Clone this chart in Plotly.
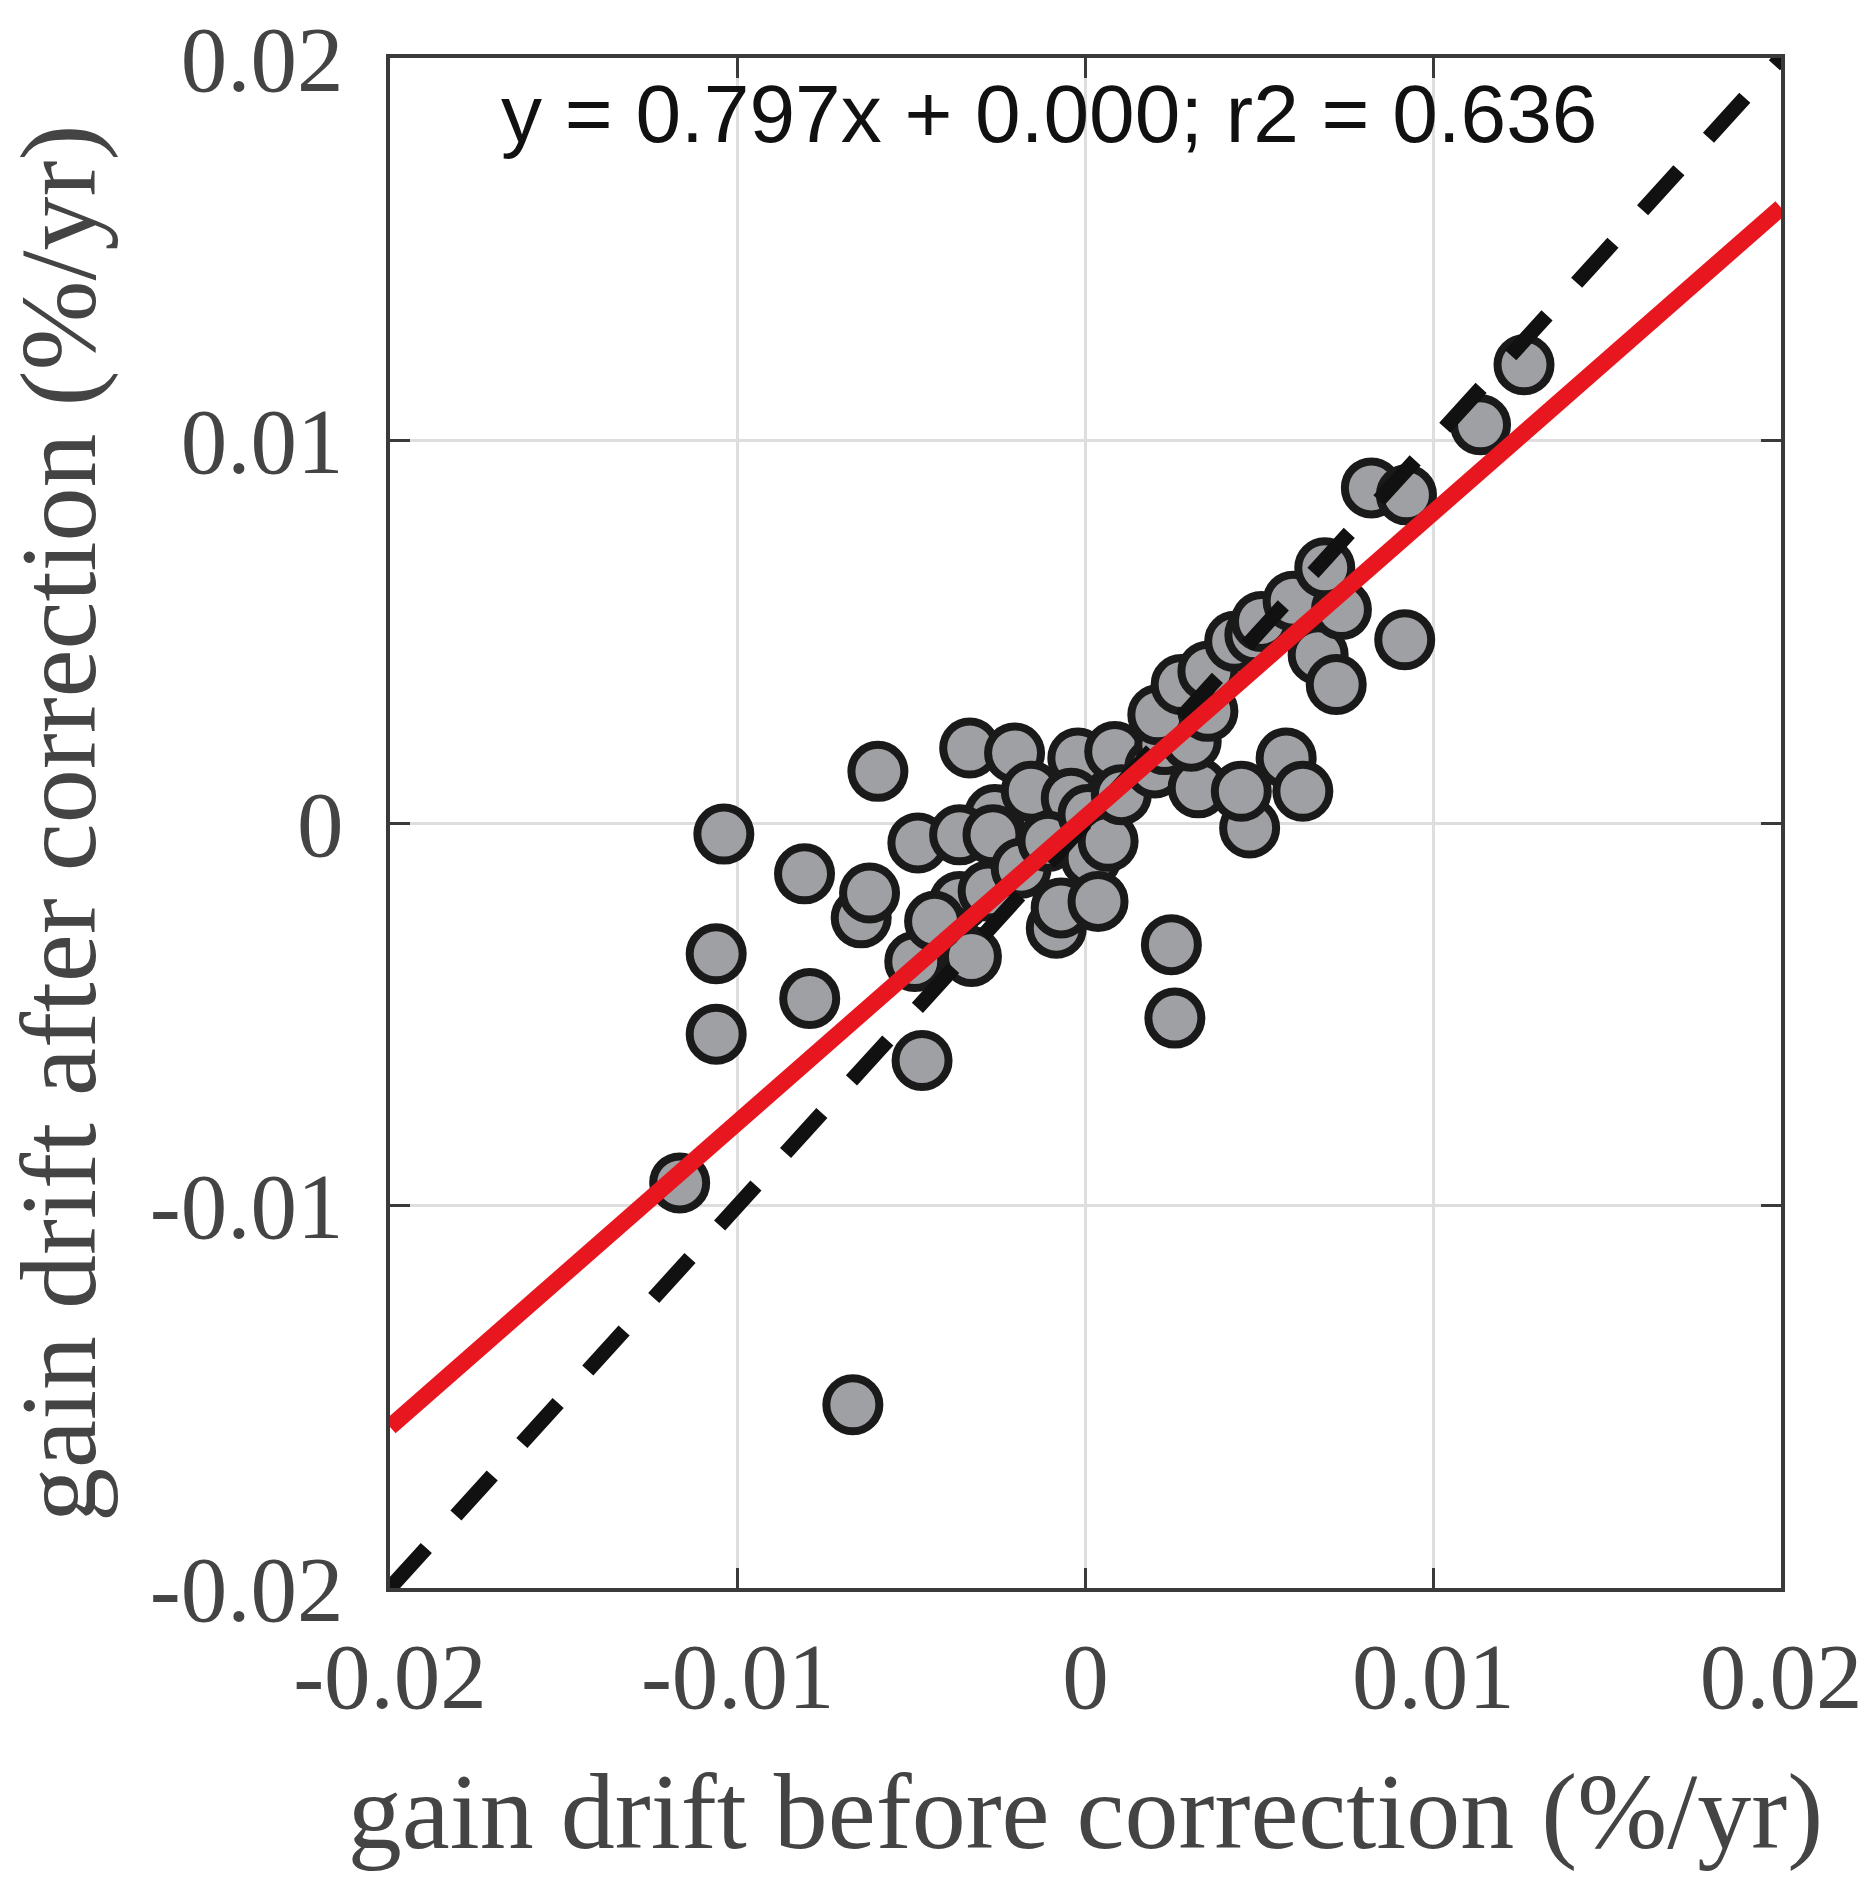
import plotly.graph_objects as go

# gain drift (%/yr)
before = [-0.01167, -0.00669, -0.01040, -0.01062, -0.01062, -0.00808, -0.00793,
          -0.00597, -0.00645, -0.00621, -0.00470, -0.00482, -0.00333, -0.00204,
          -0.00261, -0.00362, -0.00266, -0.00156, -0.00022, -0.00041, -0.00084,
          -0.00070, -0.00362, -0.00395, -0.00328, -0.00491, -0.00434, -0.00280,
          -0.00185, -0.00108, 0.00007, 0.00016, 0.00065, 0.00036, 0.00084,
          0.00103, 0.00199, 0.00228, 0.00247, 0.00257, 0.00324, 0.00304,
          0.00208, 0.00352, 0.00275, 0.00352, 0.00429, 0.00487, 0.00472,
          0.00448, 0.00577, 0.00625, 0.00506, 0.00597, 0.00669, 0.00721,
          0.00736, 0.00688, 0.00918, 0.00822, 0.00923, 0.01136, 0.01261]
after = [-0.00941, -0.01521, -0.00029, -0.00342, -0.00552, -0.00133, -0.00459,
         0.00135, -0.00248, -0.00183, -0.00621, -0.00052, 0.00196, 0.00183,
         0.00022, -0.00031, -0.00031, 0.00083, 0.00170, 0.00065, -0.00275,
         -0.00222, -0.00205, -0.00292, -0.00349, -0.00362, -0.00257, -0.00178,
         -0.00118, -0.00048, 0.00022, -0.00092, -0.00048, -0.00205, 0.00187,
         0.00074, 0.00144, 0.00205, -0.00318, -0.00510, 0.00092, 0.00214,
         0.00283, 0.00292, 0.00362, 0.00397, 0.00475, 0.00492, -0.00013,
         0.00083, 0.00170, 0.00083, 0.00527, 0.00580, 0.00440, 0.00362,
         0.00558, 0.00667, 0.00479, 0.00876, 0.00858, 0.01041, 0.01198]

fit_slope = 0.797
fit_intercept = 0.00015
fit_text = 'y = 0.797x + 0.000; r2 = 0.636'

axis_range = [-0.02, 0.02]
tick_vals = [-0.02, -0.01, 0, 0.01, 0.02]
tick_text = ['-0.02', '-0.01', '0', '0.01', '0.02']

fig = go.Figure()

fig.add_trace(go.Scatter(x=before, y=after, mode='markers',
                         marker=dict(size=53, color='#9fa0a4',
                                     line=dict(color='#1a1a1a', width=8)),
                         showlegend=False))

# 1:1 line
fig.add_trace(go.Scatter(x=axis_range, y=axis_range, mode='lines',
                         line=dict(color='#111111', width=15, dash='54px,44px'),
                         showlegend=False))

# regression line
fit_y = [fit_slope * x + fit_intercept for x in axis_range]
fig.add_trace(go.Scatter(x=axis_range, y=fit_y, mode='lines',
                         line=dict(color='#e8161e', width=17),
                         showlegend=False))

fig.add_annotation(x=0.474, y=0.964, xref='paper', yref='paper', text=fit_text,
                   showarrow=False, xanchor='center', yanchor='middle',
                   font=dict(family='Liberation Sans', size=82, color='#111111'))

# y axis title as an annotation, so it can sit closer to the page edge
fig.add_annotation(x=-0.238, y=0.5, xref='paper', yref='paper',
                   text='gain drift after correction (%/yr)', textangle=-90,
                   showarrow=False, xanchor='center', yanchor='middle',
                   font=dict(family='Liberation Serif', size=108, color='#444444'))

axis_style = dict(range=axis_range, tickvals=tick_vals, ticktext=tick_text,
                  showgrid=True, gridcolor='#dedede', gridwidth=3, zeroline=False,
                  showline=True, linecolor='#3a3a3a', linewidth=4, mirror='allticks',
                  ticks='inside', ticklen=20, tickwidth=3, tickcolor='#3a3a3a',
                  tickfont=dict(family='Liberation Serif', size=93, color='#444444'),
                  ticklabeloverflow='allow', automargin=False)

fig.update_xaxes(**axis_style, ticklabelstandoff=4,
                 title=dict(text='gain drift before correction (%/yr)', standoff=47,
                            font=dict(family='Liberation Serif', size=108, color='#444444')))
fig.update_yaxes(**axis_style, ticklabelstandoff=24)

fig.update_layout(width=1867, height=1882,
                  margin=dict(l=382, r=94, t=50, b=302),
                  paper_bgcolor='white', plot_bgcolor='white')

fig.write_html("out.html")
